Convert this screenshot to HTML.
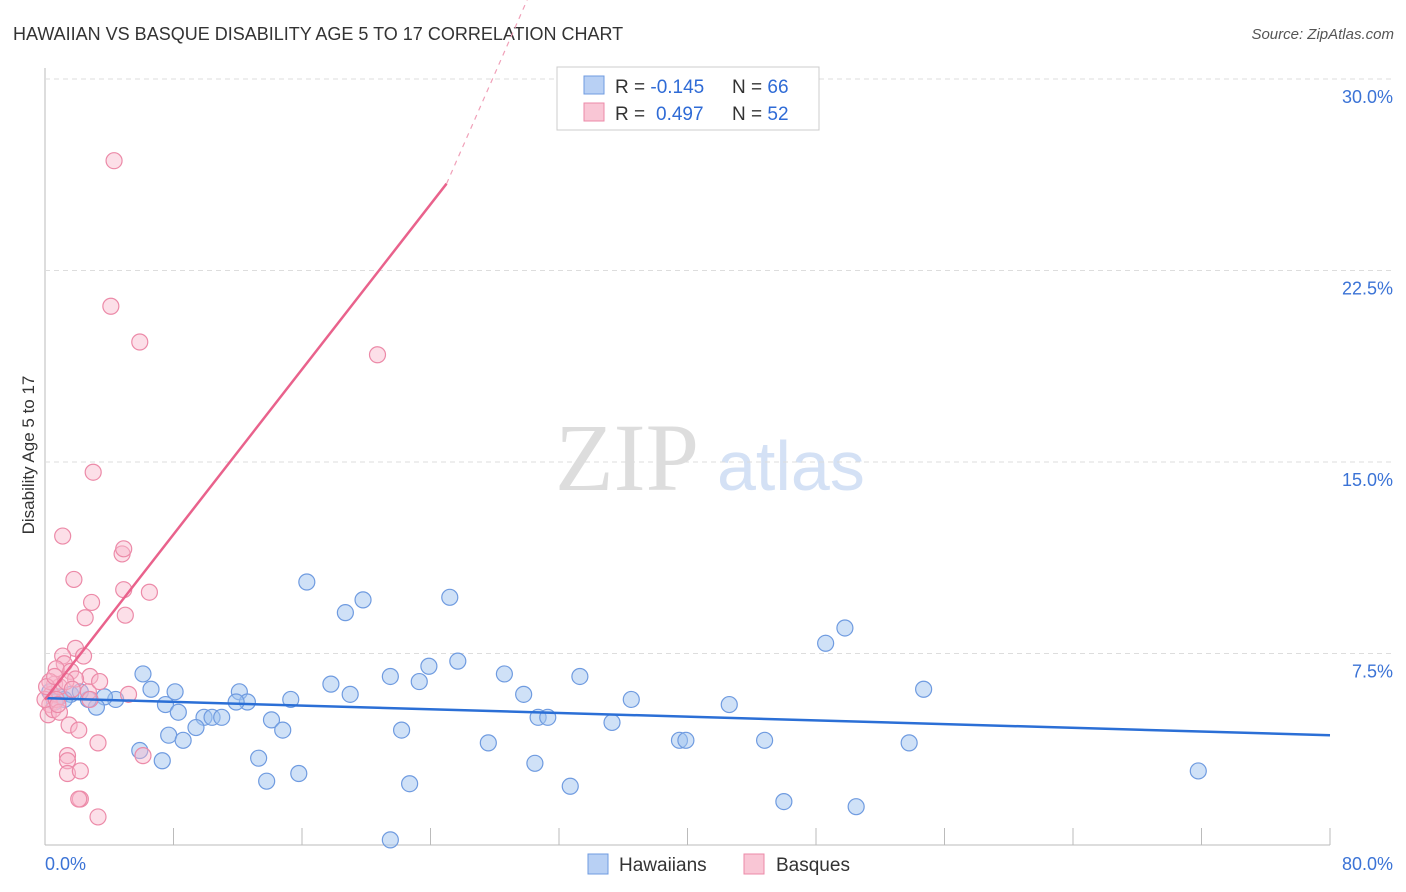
<!DOCTYPE html>
<html><head><meta charset="utf-8"><style>
body{margin:0;background:#fff;font-family:"Liberation Sans",sans-serif;}
svg{display:block}
</style></head><body>
<svg id="chart" width="1406" height="892">
<text x="13" y="40" font-size="18" fill="#333">HAWAIIAN VS BASQUE DISABILITY AGE 5 TO 17 CORRELATION CHART</text>
<text x="1394" y="39" font-size="15" fill="#555" text-anchor="end" font-style="italic">Source: ZipAtlas.com</text>
<text x="34" y="455" font-size="17" fill="#333" text-anchor="middle" transform="rotate(-90 34 455)">Disability Age 5 to 17</text>
<text x="555" y="490" font-size="96" fill="#ddd" font-family="Liberation Serif">ZIP</text>
<text x="717" y="490" font-size="70" fill="#d4e1f5">atlas</text>
<g id="grid"></g><g id="marks"></g>
<g>
<rect x="557" y="67" width="262" height="63" fill="#fff" stroke="#ccc"/>
<rect x="584" y="76" width="20" height="18" fill="#b8d0f4" stroke="#6f9be0"/>
<rect x="584" y="103" width="20" height="18" fill="#f9c6d5" stroke="#ec8aa8"/>
<text x="615" y="93" font-size="19" fill="#333">R = <tspan fill="#2f6bd6">-0.145</tspan><tspan x="732">N = </tspan><tspan fill="#2f6bd6">66</tspan></text>
<text x="615" y="120" font-size="19" fill="#333">R = <tspan fill="#2f6bd6" x="656">0.497</tspan><tspan x="732">N = </tspan><tspan fill="#2f6bd6">52</tspan></text>
</g>
<g>
<rect x="588" y="854" width="20" height="20" fill="#b8d0f4" stroke="#6f9be0"/>
<text x="619" y="871" font-size="19" fill="#333">Hawaiians</text>
<rect x="744" y="854" width="20" height="20" fill="#f9c6d5" stroke="#ec8aa8"/>
<text x="776" y="871" font-size="19" fill="#333">Basques</text>
</g>
</svg>
<script>
const xTicks=[0,80];
const yTicks=[7.5,15,22.5,30];
const hawX=[6.1,6.6,8.1,7.5,4.4,3.7,3.2,2.7,1.6,0.9,8.3,7.7,8.6,7.3,5.9,9.9,10.4,11.0,9.4,12.1,12.6,11.9,14.1,14.8,13.3,13.8,15.8,15.3,16.3,18.7,19.8,17.8,19.0,21.5,22.2,22.7,23.3,23.9,25.2,25.7,21.5,27.6,28.6,29.8,30.5,30.7,31.3,32.7,33.3,35.3,36.5,39.5,39.9,42.6,44.8,46.0,48.6,49.8,50.5,53.8,54.7,71.8,0.3,0.6,1.2,2.2];
const hawY=[6.7,6.1,6.0,5.5,5.7,5.8,5.4,5.7,5.9,5.8,5.2,4.3,4.1,3.3,3.7,5.0,5.0,5.0,4.6,6.0,5.6,5.6,4.9,4.5,3.4,2.5,2.8,5.7,10.3,9.1,9.6,6.3,5.9,6.6,4.5,2.4,6.4,7.0,9.7,7.2,0.2,4.0,6.7,5.9,3.2,5.0,5.0,2.3,6.6,4.8,5.7,4.1,4.1,5.5,4.1,1.7,7.9,8.5,1.5,4.0,6.1,2.9,6.0,5.6,5.7,6.0];
const basX=[4.3,4.1,5.9,20.7,3.0,1.1,1.8,4.8,4.9,4.9,6.5,2.9,5.0,2.5,1.9,1.1,2.4,1.2,0.7,1.6,2.8,0.6,0.4,0.3,0.2,0.5,0.9,1.9,2.7,1.5,2.1,5.2,1.4,1.4,1.4,2.2,3.3,2.2,2.1,3.3,6.1,0.3,0.0,0.7,0.9,0.1,3.4,1.3,1.7,0.6,2.8,0.8];
const basY=[26.8,21.1,19.7,19.2,14.6,12.1,10.4,11.4,11.6,10.0,9.9,9.5,9.0,8.9,7.7,7.4,7.4,7.1,6.9,6.8,6.6,6.3,5.9,5.5,5.1,5.3,6.2,6.5,6.0,4.7,4.5,5.9,3.5,3.3,2.8,2.9,4.0,1.8,1.8,1.1,3.5,6.4,5.7,5.7,5.2,6.2,6.4,6.4,6.1,6.6,5.7,5.5];
const hawLine=[5.75,4.3];
const basLine=[5.7,25.9,33.5]; // at x=0, x=25, x=30.3 (dashed)
const X=v=>45+v/80*1285, Y=v=>845-v/30*766;
const NS='http://www.w3.org/2000/svg';
const grid=document.getElementById('grid'), marks=document.getElementById('marks');
function el(p,tag,a){const e=document.createElementNS(NS,tag);for(const k in a)e.setAttribute(k,a[k]);p.appendChild(e);return e;}
const ax=el(grid,'line',{x1:45,y1:68,x2:45,y2:845,stroke:'#bbb'});


const bx=el(grid,'line',{x1:45,y1:845,x2:1330,y2:845,stroke:'#bbb'});


for(let i=0;i<=10;i++){const t=el(grid,'line',{x1:X(i*8),x2:X(i*8),y1:828,y2:845,stroke:'#bbb'});

}
yTicks.forEach(v=>{const g=el(grid,'line',{x1:45,x2:1394,y1:Y(v),y2:Y(v),stroke:'#ddd','stroke-dasharray':'5,4'});


const t=el(grid,'text',{x:1393,y:Y(v)+24,'font-size':18,fill:'#3b73d6','text-anchor':'end'});t.textContent=v.toFixed(1)+'%';

});
xTicks.forEach((v,i)=>{const t=el(grid,'text',{x:i?1393:45,y:870,'font-size':18,fill:'#3b73d6','text-anchor':i?'end':'start'});t.textContent=v.toFixed(1)+'%';

});
hawX.forEach((x,i)=>{const c=el(marks,'circle',{cx:X(x),cy:Y(hawY[i]),r:8,fill:'rgba(160,195,240,0.5)',stroke:'#6f9be0','stroke-width':1.2});

});
basX.forEach((x,i)=>{const c=el(marks,'circle',{cx:X(x),cy:Y(basY[i]),r:8,fill:'rgba(248,185,205,0.45)',stroke:'#ec8aa8','stroke-width':1.2});

});
const hl=el(marks,'line',{x1:X(0),y1:Y(hawLine[0]),x2:X(80),y2:Y(hawLine[1]),stroke:'#2b6fd6','stroke-width':2.5});


const pl=el(marks,'line',{x1:X(0),y1:Y(basLine[0]),x2:X(25),y2:Y(basLine[1]),stroke:'#e9628c','stroke-width':2.5});


const pd=el(marks,'line',{x1:X(25),y1:Y(basLine[1]),x2:X(30.3),y2:Y(basLine[2]),stroke:'#f0a0b8','stroke-width':1.2,'stroke-dasharray':'5,5'});


</script>
</body></html>
